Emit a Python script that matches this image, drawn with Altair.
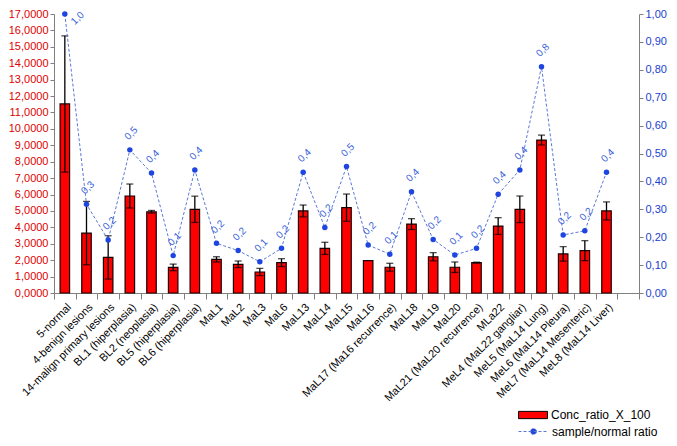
import altair as alt
import pandas as pd

categories = ["5-normal", "4-benign lesions", "14-malign primary lesions",
              "BL1 (hiperplasia)", "BL2 (neoplasia)", "BL5 (hiperplasia)",
              "BL6 (hiperplasia)", "MaL1", "MaL2", "MaL3", "MaL6", "MaL13",
              "MaL14", "MaL15", "MaL16", "MaL17 (Ma16 recurrence)", "MaL18",
              "MaL19", "MaL20", "MaL21 (MaL20 recurrence)", "MLa22",
              "MeL4 (MaL22 gangliar)", "MeL5 (MaL14 Lung)", "MeL6 (MaL14 Pleura)",
              "MeL7 (MaL14 Mesenteric)", "MeL8 (MaL14 Liver)"]
conc = [11.52, 3.65, 2.17, 5.91, 4.95, 1.56, 5.10, 2.05, 1.75, 1.28, 1.85,
        5.00, 2.72, 5.20, 1.97, 1.57, 4.20, 2.21, 1.57, 1.85, 4.08, 5.10,
        9.32, 2.38, 2.58, 5.00]
conc_err = [4.15, 1.93, 1.32, 0.73, 0.08, 0.20, 0.80, 0.16, 0.20, 0.22, 0.24,
            0.36, 0.37, 0.83, 0.0, 0.24, 0.33, 0.25, 0.32, 0.03, 0.51, 0.81,
            0.30, 0.44, 0.61, 0.55]
ratio = [1.00, 0.318, 0.19, 0.513, 0.43, 0.134, 0.441, 0.178, 0.152, 0.112,
         0.16, 0.433, 0.235, 0.453, 0.172, 0.139, 0.363, 0.192, 0.136, 0.16,
         0.354, 0.441, 0.811, 0.208, 0.223, 0.433]
bar_series = "Conc_ratio_X_100"
line_series = "sample/normal ratio"
x_domain = categories + [" "]

df = pd.DataFrame({"cat": categories, "conc": conc, "err": conc_err,
                   "ratio": ratio, "s1": bar_series, "s2": line_series})

x = alt.X("cat:N", sort=x_domain,
          scale=alt.Scale(domain=x_domain, paddingInner=0, paddingOuter=0),
          axis=alt.Axis(title=None, labelAngle=-45, labelFontSize=11,
                        labelColor="black", tickBand="extent", tickSize=6,
                        labelPadding=2, domainColor="#808080",
                        tickColor="#808080", labelFont="Arial",
                        labelLimit=300))

yl_scale = alt.Scale(domain=[0, 17], nice=False)
yl_axis = alt.Axis(title=None, values=list(range(0, 18)), labelColor="#e00000",
                   labelFontSize=11, labelFont="Arial", grid=False, tickSize=4,
                   labelPadding=2, domainColor="#808080", tickColor="#808080",
                   labelExpr="replace(format(datum.value, '.4f'), '.', ',')")
yr_scale = alt.Scale(domain=[0, 1], nice=False)
yr_axis = alt.Axis(title=None, orient="right",
                   values=[i / 10 for i in range(11)], labelColor="#1a3fd0",
                   labelFontSize=11, labelFont="Arial", grid=False, tickSize=4,
                   labelPadding=2, domainColor="#808080", tickColor="#808080",
                   labelExpr="replace(format(datum.value, '.2f'), '.', ',')")

base = alt.Chart(df).encode(x=x)

bars = base.mark_bar(size=9.5, stroke="#1a0000", strokeWidth=1.2).encode(
    y=alt.Y("conc:Q", scale=yl_scale, axis=yl_axis),
    fill=alt.Fill("s1:N", scale=alt.Scale(domain=[bar_series], range=["#ff0000"]),
                  legend=alt.Legend(title=None, orient="none", legendX=464,
                                    legendY=386, symbolType="M-1,-0.25H1V0.25H-1Z",
                                    symbolSize=841, symbolStrokeColor="black",
                                    symbolStrokeWidth=1, labelFontSize=12,
                                    labelFont="Arial", labelOffset=3,
                                    padding=0))
)

err = base.transform_calculate(
    lo="datum.conc - datum.err", hi="datum.conc + datum.err"
).transform_filter("datum.err > 0")

rule = err.mark_rule(color="black", strokeWidth=1.3).encode(
    y=alt.Y("lo:Q", scale=yl_scale, axis=yl_axis), y2="hi:Q")
cap_hi = err.mark_tick(color="black", size=7, thickness=1.3).encode(
    y=alt.Y("hi:Q", scale=yl_scale, axis=yl_axis))
cap_lo = err.mark_tick(color="black", size=7, thickness=1.3).encode(
    y=alt.Y("lo:Q", scale=yl_scale, axis=yl_axis))

left = alt.layer(bars, rule, cap_hi, cap_lo)

line = base.mark_line(strokeDash=[3, 2], strokeWidth=1, color="#5a78d8").encode(
    y=alt.Y("ratio:Q", scale=yr_scale, axis=yr_axis),
    stroke=alt.Stroke("s2:N", scale=alt.Scale(domain=[line_series], range=["#5a78d8"]),
                      legend=alt.Legend(title=None, orient="none", legendX=464,
                                        legendY=402,
                                        symbolType="M-1,0H1M0.2,0A0.2,0.2,0,1,1,-0.2,0A0.2,0.2,0,1,1,0.2,0",
                                        symbolSize=900, symbolDash=[3, 2],
                                        symbolStrokeWidth=1,
                                        symbolFillColor="#1f45e0",
                                        labelFontSize=12, labelFont="Arial",
                                        labelOffset=3, padding=0))
)
pts = base.mark_point(filled=True, size=30, color="#1f45e0", opacity=1).encode(
    y=alt.Y("ratio:Q", scale=yr_scale, axis=yr_axis))
lab_base = base.transform_calculate(
    lt="replace(format(datum.ratio, '.1f'), '.', ',')")
labels = lab_base.transform_filter("datum.ratio < 0.95").transform_calculate(
    ly="datum.ratio + 0.054"
).mark_text(angle=315, color="#3a5fd8", fontSize=10, font="Arial", dx=2).encode(
    y=alt.Y("ly:Q", scale=yr_scale, axis=yr_axis), text="lt:N")
top_label = lab_base.transform_filter("datum.ratio >= 0.95").mark_text(
    angle=315, color="#3a5fd8", fontSize=10, font="Arial", baseline="middle",
    dx=6, dy=12).encode(
    y=alt.Y("ratio:Q", scale=yr_scale, axis=yr_axis), text="lt:N")

right = alt.layer(line, pts, labels, top_label)

chart = alt.layer(left, right).resolve_scale(
    y="independent", fill="independent", stroke="independent"
).properties(
    width=585, height=279,
    autosize=alt.AutoSizeParams(type="none"),
    padding={"left": 46, "top": 6, "right": 30, "bottom": 145},
).configure_view(strokeWidth=0)

chart.save("out.html", embed_options={"renderer": "svg", "actions": False})
